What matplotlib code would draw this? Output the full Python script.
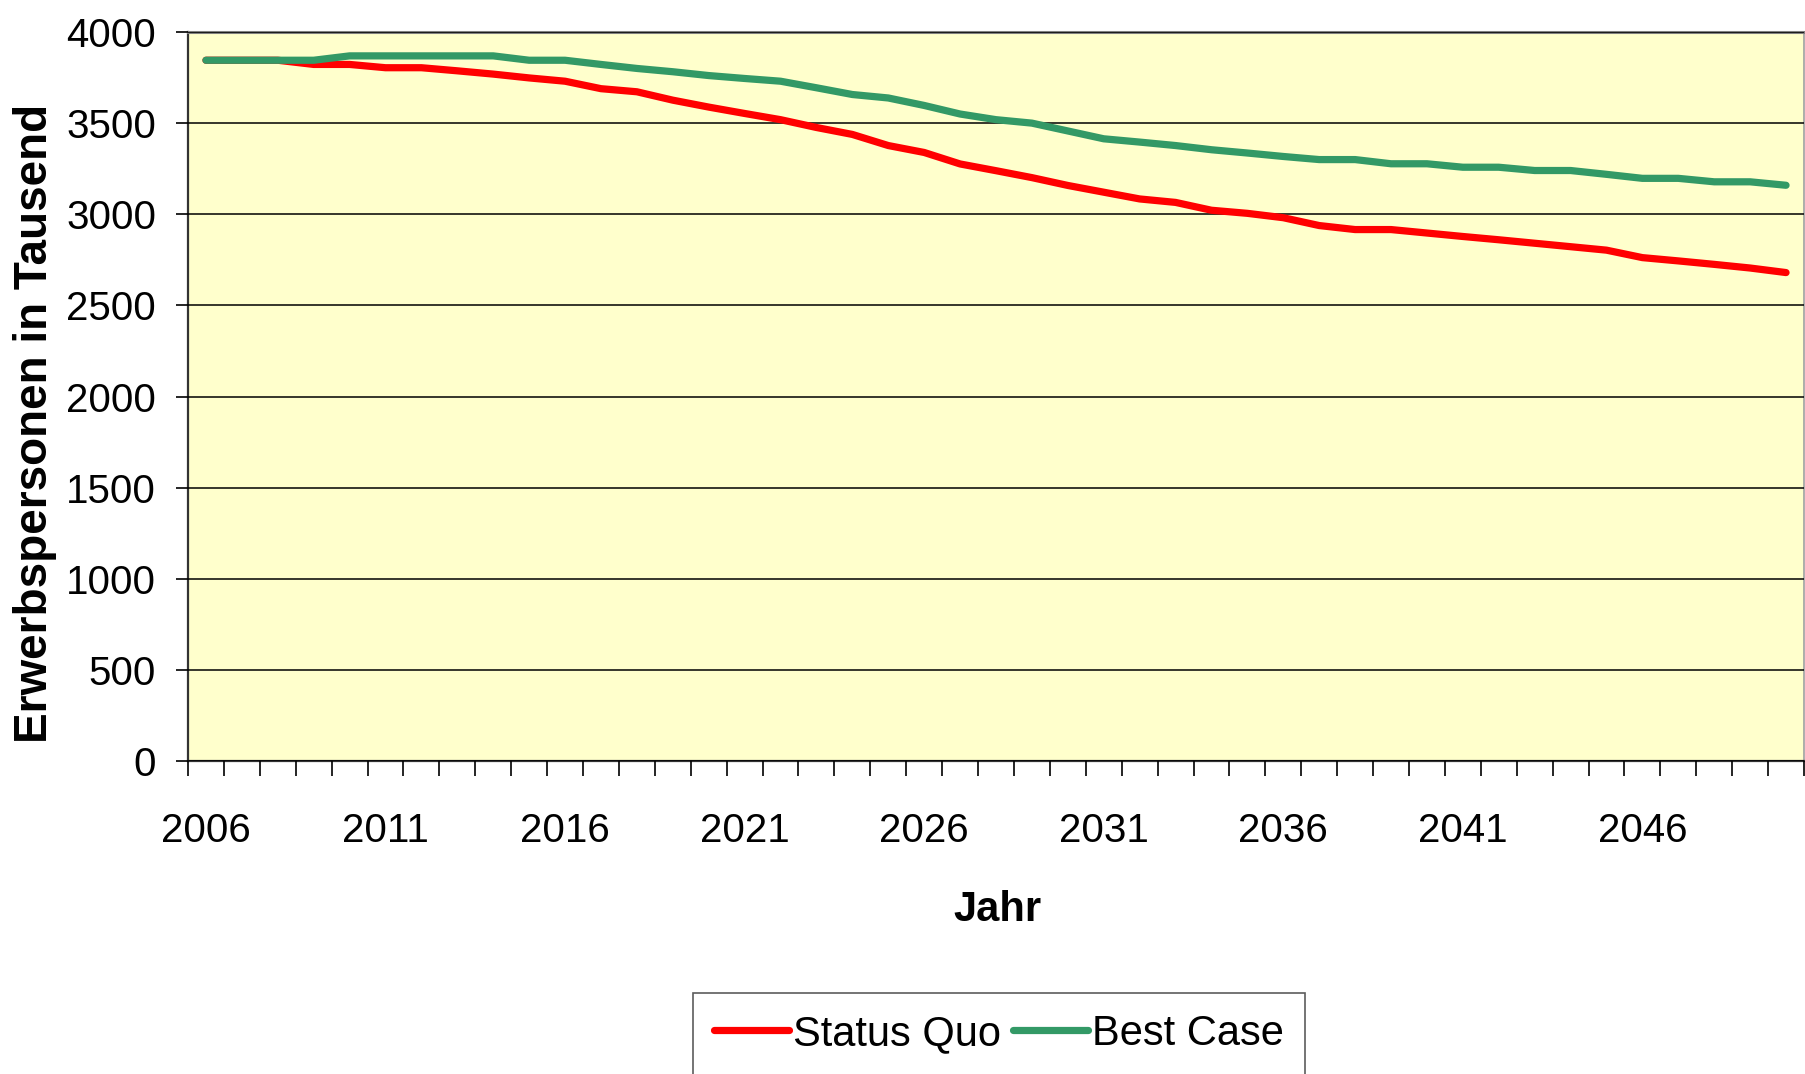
import matplotlib
matplotlib.use("Agg")
import matplotlib.pyplot as plt
from matplotlib.ticker import FixedLocator, NullFormatter

years = list(range(2006, 2051))
status_quo = [3845, 3845, 3845, 3822, 3822, 3804, 3804, 3787, 3769, 3748,
              3730, 3689, 3672, 3626, 3588, 3553, 3519, 3476, 3438, 3377,
              3339, 3276, 3239, 3201, 3158, 3121, 3084, 3065, 3022, 3005,
              2981, 2938, 2916, 2916, 2897, 2878, 2860, 2841, 2822, 2803,
              2762, 2744, 2725, 2705, 2680]
best_case = [3845, 3845, 3845, 3845, 3869, 3869, 3869, 3869, 3869, 3845,
             3845, 3822, 3800, 3782, 3761, 3745, 3730, 3694, 3657, 3638,
             3597, 3550, 3519, 3500, 3457, 3414, 3396, 3377, 3354, 3336,
             3317, 3300, 3300, 3277, 3277, 3258, 3258, 3240, 3240, 3219,
             3197, 3197, 3178, 3178, 3159]
series_names = ["Status Quo", "Best Case"]
series_colors = ["#FF0000", "#339966"]
yticks = list(range(0, 4001, 500))
label_years = years[::5]

narrow = ["Liberation Sans Narrow", "Liberation Sans", "DejaVu Sans"]
boldfam = ["Liberation Sans", "DejaVu Sans"]

fig = plt.figure(figsize=(18.06, 10.74), dpi=100)
ax = fig.add_axes([188/1806, 1-761/1074, (1804-188)/1806, (761-32)/1074])
ax.set_facecolor("#FFFFCC")

idx = list(range(len(years)))
for vals, name, col in zip([status_quo, best_case], series_names, series_colors):
    ax.plot(idx, vals, color=col, lw=5.2, label=name, solid_capstyle="round",
            solid_joinstyle="round", zorder=3)

ax.set_xlim(-0.5, len(years) - 0.5)
ax.set_ylim(0, 4000)

# y axis
ax.set_yticks(yticks)
ax.set_yticklabels([str(v) for v in yticks], fontfamily=narrow, fontsize=29)
ax.tick_params(axis="y", direction="out", length=9, width=1.2, pad=14, color="black")
ax.yaxis.grid(True, color="black", lw=1.1)
ax.set_axisbelow(False)

# x axis: boundary ticks (minor) and labels at category centres (major)
ax.xaxis.set_minor_locator(FixedLocator([i - 0.5 for i in range(len(years) + 1)]))
ax.xaxis.set_minor_formatter(NullFormatter())
ax.set_xticks([years.index(y) for y in label_years])
ax.set_xticklabels([str(y) for y in label_years], fontfamily=narrow, fontsize=29)
ax.tick_params(axis="x", which="minor", direction="out", length=11, width=1.2, color="black")
ax.tick_params(axis="x", which="major", length=0, pad=37)

for s in ["left", "bottom"]:
    ax.spines[s].set_color("#333333")
    ax.spines[s].set_linewidth(1.6)
ax.spines["top"].set_color("#808080")
ax.spines["top"].set_linewidth(2.2)
ax.spines["right"].set_color("#A0A0A0")
ax.spines["right"].set_linewidth(1.2)

fig.text(35/1806, 1-423/1074, "Erwerbspersonen in Tausend", rotation=90,
         ha="center", va="center", fontfamily=boldfam, fontweight="bold", fontsize=33)
fig.text(997/1806, 1-910/1074, "Jahr", ha="center", va="center",
         fontfamily=boldfam, fontweight="bold", fontsize=30)

leg = fig.legend(loc="upper center", bbox_to_anchor=(999/1806, 1-993/1074), ncol=2,
                 frameon=True, fancybox=False, edgecolor="#333333",
                 prop={"family": narrow, "size": 30}, handlelength=1.8,
                 handletextpad=0.1, columnspacing=0.3, borderpad=0.5,
                 borderaxespad=0)
leg.get_frame().set_linewidth(1.2)
for h in leg.get_lines():
    h.set_linewidth(5.2)

fig.savefig("out.png", dpi=100, facecolor="white")
